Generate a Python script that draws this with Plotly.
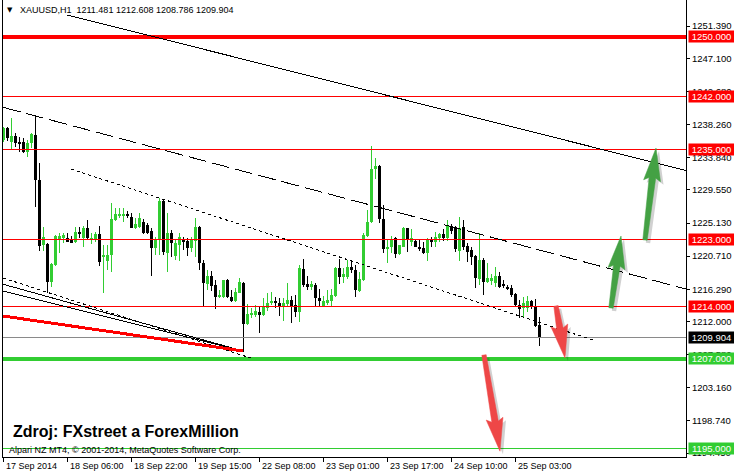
import plotly.graph_objects as go

# ---------------- data (XAUUSD H1) ----------------
time_labels = ["17 Sep 2014", "18 Sep 06:00", "18 Sep 22:00", "19 Sep 15:00",
               "22 Sep 08:00", "23 Sep 01:00", "23 Sep 17:00", "24 Sep 10:00",
               "25 Sep 03:00"]
label_bars = [0, 16, 32, 48, 64, 80, 96, 112, 128]

opens = [1236.20, 1237.80, 1235.97, 1236.73, 1235.97, 1235.89, 1234.64, 1235.76, 1236.87, 1230.87,
         1222.20, 1222.33, 1217.31, 1219.53, 1222.99, 1223.17, 1223.09, 1222.99, 1222.56, 1223.97,
         1223.09, 1224.51, 1222.96, 1222.99, 1223.67, 1220.73, 1220.07, 1220.87, 1225.53, 1226.11,
         1226.11, 1226.33, 1225.98, 1224.43, 1224.60, 1225.27, 1224.87, 1224.11, 1221.84, 1222.96,
         1228.07, 1221.17, 1223.80, 1220.73, 1222.20, 1222.96, 1222.76, 1221.84, 1222.73, 1224.64,
         1219.76, 1217.00, 1218.07, 1216.87, 1215.23, 1215.23, 1217.53, 1215.31, 1214.77, 1215.84,
         1217.09, 1211.67, 1212.87, 1212.87, 1213.23, 1212.87, 1213.76, 1214.43, 1214.73, 1214.51,
         1214.07, 1214.33, 1214.87, 1214.20, 1213.31, 1218.99, 1217.00, 1216.64, 1216.87, 1215.09,
         1214.11, 1214.43, 1214.77, 1215.44, 1219.17, 1217.97, 1217.97, 1219.31, 1218.87, 1216.11,
         1217.53, 1223.40, 1225.27, 1232.29, 1232.73, 1225.63, 1221.63, 1221.89, 1223.09, 1221.00,
         1221.97, 1224.43, 1222.64, 1222.73, 1221.97, 1221.84, 1221.17, 1222.96, 1222.64, 1223.17,
         1223.63, 1223.17, 1224.64, 1224.43, 1221.44, 1224.64, 1222.07, 1221.53, 1220.73, 1217.63,
         1220.20, 1217.31, 1217.40, 1217.09, 1218.07, 1217.00, 1216.64, 1216.51, 1215.67, 1214.20,
         1213.76, 1213.76, 1214.77, 1213.97, 1211.481]
highs = [1237.97, 1237.93, 1239.09, 1237.09, 1236.56, 1236.43, 1236.20, 1237.09, 1239.53, 1233.09,
         1224.56, 1222.47, 1219.76, 1223.53, 1223.76, 1223.84, 1223.76, 1223.40, 1224.56, 1224.64,
         1224.77, 1225.53, 1223.76, 1223.97, 1224.77, 1222.20, 1222.20, 1227.76, 1227.09, 1227.09,
         1227.09, 1226.77, 1226.43, 1225.76, 1226.51, 1225.67, 1225.13, 1224.47, 1223.31, 1228.43,
         1228.33, 1226.43, 1224.20, 1222.87, 1223.76, 1223.31, 1223.09, 1223.31, 1225.76, 1224.73,
         1220.20, 1218.87, 1218.77, 1217.53, 1216.20, 1217.53, 1217.63, 1216.20, 1216.43, 1217.84,
         1217.27, 1214.29, 1213.84, 1214.20, 1214.07, 1215.09, 1215.84, 1215.89, 1215.31, 1215.09,
         1215.09, 1217.09, 1215.44, 1215.53, 1219.53, 1220.33, 1218.11, 1217.44, 1217.09, 1216.29,
         1215.44, 1216.20, 1216.29, 1219.30, 1220.33, 1219.17, 1220.20, 1220.07, 1219.53, 1218.64,
         1223.80, 1226.87, 1235.40, 1233.76, 1232.87, 1227.53, 1222.87, 1223.40, 1223.31, 1222.20,
         1224.64, 1224.47, 1224.29, 1222.87, 1222.87, 1222.64, 1223.17, 1223.23, 1223.97, 1223.76,
         1224.29, 1225.53, 1225.00, 1224.73, 1225.89, 1225.53, 1222.43, 1221.97, 1220.87, 1223.76,
         1220.43, 1219.76, 1218.33, 1219.31, 1218.64, 1217.53, 1216.87, 1216.87, 1215.84, 1214.87,
         1215.31, 1215.40, 1214.87, 1214.96, 1212.608]
lows = [1235.97, 1236.07, 1234.87, 1235.31, 1234.64, 1234.43, 1233.97, 1235.09, 1227.31, 1221.44,
        1221.44, 1215.84, 1216.64, 1219.40, 1221.09, 1222.51, 1222.56, 1222.43, 1222.43, 1223.09,
        1221.97, 1222.87, 1222.33, 1222.64, 1219.44, 1215.76, 1218.87, 1218.64, 1225.40, 1225.76,
        1225.23, 1225.76, 1224.43, 1224.33, 1224.47, 1223.67, 1223.67, 1218.11, 1220.87, 1220.87,
        1220.87, 1218.64, 1220.64, 1220.20, 1220.07, 1221.53, 1220.73, 1221.31, 1220.64, 1218.87,
        1213.89, 1216.20, 1216.11, 1213.63, 1215.09, 1215.09, 1215.09, 1214.64, 1214.64, 1215.76,
        1207.97, 1211.53, 1212.43, 1212.64, 1210.51, 1212.77, 1213.44, 1214.20, 1213.76, 1212.73,
        1212.11, 1213.97, 1211.84, 1212.64, 1211.97, 1216.64, 1216.20, 1216.20, 1214.11, 1214.07,
        1213.97, 1214.20, 1213.97, 1215.31, 1217.00, 1217.17, 1217.63, 1218.43, 1215.31, 1215.97,
        1217.40, 1223.27, 1225.13, 1231.00, 1225.09, 1221.17, 1219.76, 1221.09, 1220.43, 1220.87,
        1221.89, 1221.31, 1222.11, 1221.89, 1221.44, 1220.96, 1220.11, 1221.97, 1221.97, 1222.64,
        1222.73, 1222.77, 1223.63, 1221.27, 1220.11, 1221.53, 1219.97, 1219.53, 1216.43, 1216.87,
        1215.53, 1217.17, 1216.87, 1216.56, 1216.47, 1216.43, 1216.20, 1215.23, 1214.07, 1212.43,
        1212.43, 1213.31, 1213.67, 1211.31, 1208.786]
closes = [1237.76, 1236.47, 1236.73, 1235.84, 1235.67, 1234.64, 1235.84, 1236.96, 1230.87, 1222.11,
          1223.31, 1217.31, 1219.63, 1223.44, 1223.44, 1223.53, 1222.64, 1222.51, 1223.97, 1223.76,
          1224.43, 1223.09, 1223.17, 1223.67, 1219.97, 1220.87, 1220.87, 1225.67, 1226.33, 1226.33,
          1226.20, 1226.07, 1224.51, 1224.99, 1225.80, 1223.84, 1223.80, 1221.84, 1222.99, 1228.11,
          1221.31, 1223.76, 1222.47, 1222.51, 1223.31, 1222.64, 1221.76, 1222.87, 1224.64, 1219.76,
          1217.09, 1218.07, 1216.73, 1215.23, 1215.53, 1217.53, 1215.31, 1214.77, 1215.97, 1217.31,
          1211.67, 1212.96, 1213.17, 1213.40, 1212.87, 1214.07, 1214.51, 1214.73, 1214.43, 1214.07,
          1214.51, 1214.87, 1214.07, 1213.31, 1219.17, 1216.87, 1216.64, 1216.96, 1215.09, 1214.73,
          1214.73, 1214.87, 1215.53, 1219.17, 1217.97, 1218.29, 1219.31, 1218.87, 1216.20, 1217.67,
          1223.53, 1225.27, 1232.33, 1232.73, 1225.63, 1221.63, 1221.97, 1222.96, 1221.00, 1222.20,
          1224.43, 1222.87, 1223.09, 1221.97, 1221.67, 1221.17, 1222.96, 1222.64, 1223.31, 1223.63,
          1223.17, 1224.87, 1224.07, 1221.63, 1224.43, 1221.97, 1221.31, 1220.64, 1217.76, 1220.20,
          1217.31, 1217.84, 1217.76, 1218.07, 1216.64, 1216.73, 1216.43, 1215.53, 1214.20, 1213.63,
          1214.51, 1214.73, 1213.89, 1211.40, 1209.904]

# price-axis ticks as MT4 shows them
y_tickvals = [1251.39, 1247.10, 1242.68, 1238.26, 1233.84, 1229.55, 1225.13, 1220.71,
              1216.29, 1212.00, 1207.58, 1203.16, 1198.74, 1194.45]
y_ticktext = ["1251.390", "1247.100", "1242.680", "1238.260", "1233.840", "1229.550",
              "1225.130", "1220.710", "1216.290", "1212.000", "1207.580", "1203.160",
              "1198.740", "1194.450"]

# horizontal levels: (price, colour, width)
level_prices = [1250.0, 1242.0, 1235.0, 1223.0, 1214.0, 1207.0, 1195.0]
level_colors = ["#FF0000", "#FF0000", "#FF0000", "#FF0000", "#FF0000", "#32CD32", "#32CD32"]
level_widths = [4, 1, 1, 1, 1, 4, 1]
bid_price = 1209.904

# trend lines: (bar0, price0, bar1, price1, colour, width, dash)
trend_lines = [
    (16.0, 1252.87, 170.67, 1232.13, "black", 1, "solid"),
    (-0.08, 1240.56, 170.67, 1216.33, "black", 1, "18px,6px"),
    (16.9, 1232.33, 147.9, 1209.44, "black", 1, "3px,3px"),
    (-0.08, 1216.97, 59.9, 1208.07, "black", 1, "solid"),
    (-0.08, 1216.07, 59.9, 1208.07, "black", 1, "solid"),
    (-0.08, 1217.80, 62.2, 1207.07, "black", 1, "3px,3px"),
    (-0.08, 1212.73, 59.9, 1208.07, "#FF0000", 3, "solid"),
]

# big arrows: (tail bar, tail price, tip bar, tip price, colour)
arrows = [
    (120.17, 1207.53, 124.17, 1194.70, "#EE4747"),
    (138.17, 1214.07, 140.42, 1207.13, "#EE4747"),
    (151.92, 1213.80, 154.42, 1223.40, "#44A144"),
    (160.42, 1222.87, 163.17, 1235.13, "#44A144"),
]

# ---------------- layout geometry ----------------
W, H = 734, 475
ML, MR, MT, MB = 3, 48, 0, 18
PW, PH = W - ML - MR, H - MT - MB
X0, X1 = -0.08, 170.67
Y0, Y1 = 1193.93, 1254.87
SX = PW / (X1 - X0)
SY = PH / (Y1 - Y0)

GREEN = "#32CD32"
n = len(opens)
bars = list(range(n))

fig = go.Figure()

# wicks
for bull in (True, False):
    xs, ys = [], []
    for i in bars:
        if (closes[i] >= opens[i]) == bull:
            xs += [i, i, None]
            ys += [lows[i], highs[i], None]
    fig.add_trace(go.Scatter(x=xs, y=ys, mode="lines",
                             line=dict(color=GREEN if bull else "black", width=1),
                             hoverinfo="skip", showlegend=False))

# bodies
base = [min(o, c) for o, c in zip(opens, closes)]
height = [max(abs(c - o), 0.13) for o, c in zip(opens, closes)]
colors = [GREEN if c >= o else "black" for o, c in zip(opens, closes)]
fig.add_trace(go.Bar(x=bars, y=height, base=base, width=0.75,
                     marker=dict(color=colors, line=dict(width=0)),
                     hoverinfo="skip", showlegend=False))

shapes = []
for p, c, w in zip(level_prices, level_colors, level_widths):
    shapes.append(dict(type="line", xref="paper", x0=0, x1=1, yref="y", y0=p, y1=p,
                       line=dict(color=c, width=w)))
shapes.append(dict(type="line", xref="paper", x0=0, x1=1, yref="y", y0=bid_price, y1=bid_price,
                   line=dict(color="#8A8A8A", width=1)))
for (a0, p0, a1, p1, c, w, d) in trend_lines:
    shapes.append(dict(type="line", xref="x", yref="y", x0=a0, y0=p0, x1=a1, y1=p1,
                       line=dict(color=c, width=w, dash=d)))


def arrow_path(xt, yt, xh, yh, dx=0.0, dy=0.0):
    ut, vt = xt * SX, yt * SY
    uh, vh = xh * SX, yh * SY
    L = ((uh - ut) ** 2 + (vh - vt) ** 2) ** 0.5
    du, dv = (uh - ut) / L, (vh - vt) / L
    nu, nv = -dv, du
    hl, hw, wn, wt = 30.0, 8.5, 3.3, 2.2
    nbu, nbv = uh - du * hl, vh - dv * hl
    bbu, bbv = uh - du * (hl + 3), vh - dv * (hl + 3)
    pts = [
        (ut + nu * wt, vt + nv * wt),
        (nbu + nu * wn, nbv + nv * wn),
        (bbu + nu * hw, bbv + nv * hw),
        (uh, vh),
        (bbu - nu * hw, bbv - nv * hw),
        (nbu - nu * wn, nbv - nv * wn),
        (ut - nu * wt, vt - nv * wt),
    ]
    s = ""
    for k, (u, v) in enumerate(pts):
        s += ("M" if k == 0 else "L") + f"{(u + dx) / SX:.4f},{(v + dy) / SY:.4f} "
    return s + "Z"


for (xt, yt, xh, yh, c) in arrows:
    shapes.append(dict(type="path", xref="x", yref="y", path=arrow_path(xt, yt, xh, yh, 3, -3),
                       fillcolor="rgba(0,0,0,0.18)", line=dict(width=0)))
    shapes.append(dict(type="path", xref="x", yref="y", path=arrow_path(xt, yt, xh, yh),
                       fillcolor=c, line=dict(color=c, width=0.5)))

FONT = "Liberation Sans, Arial, sans-serif"


def px_x(px):
    return (px - ML) / PW


def px_y(py):
    return (PH - (py - MT)) / PH


ann = []
# price label boxes
for p, c in zip(level_prices, level_colors):
    ann.append(dict(x=1, xref="paper", y=p, yref="y", xanchor="left", yanchor="middle",
                    xshift=2, text=f"{p:.3f}", showarrow=False, bgcolor=c, width=45, height=11,
                    borderpad=0, font=dict(family=FONT, size=9.5, color="white")))
ann.append(dict(x=1, xref="paper", y=bid_price, yref="y", xanchor="left", yanchor="middle",
                xshift=2, text=f"{bid_price:.3f}", showarrow=False, bgcolor="black", width=45,
                height=11, borderpad=0, font=dict(family=FONT, size=9.5, color="white")))
# time labels
for b, t in zip(label_bars, time_labels):
    ann.append(dict(x=b, xref="x", y=0, yref="paper", xanchor="left", yanchor="top",
                    xshift=1, yshift=-2, text=t, showarrow=False,
                    font=dict(family=FONT, size=9, color="black")))
# header
ann.append(dict(x=px_x(9.5), xref="paper", y=px_y(10.5), yref="paper", xanchor="center",
                yanchor="middle", text="\u25BC", showarrow=False,
                font=dict(family="DejaVu Sans", size=7, color="black")))
ann.append(dict(x=px_x(18), xref="paper", y=px_y(10), yref="paper", xanchor="left",
                yanchor="middle", showarrow=False,
                text="XAUUSD,H1\u00a0\u00a01211.481 1212.608 1208.786 1209.904",
                font=dict(family=FONT, size=9, color="black")))
ann.append(dict(x=px_x(11), xref="paper", y=px_y(431.5), yref="paper", xanchor="left",
                yanchor="middle", showarrow=False, text="<b>Zdroj: FXstreet a ForexMillion</b>",
                font=dict(family=FONT, size=16, color="black")))
ann.append(dict(x=px_x(7), xref="paper", y=px_y(450), yref="paper", xanchor="left",
                yanchor="middle", showarrow=False,
                text="Alpari NZ MT4, \u00a9 2001-2014, MetaQuotes Software Corp.",
                font=dict(family=FONT, size=9, color="black")))

fig.update_layout(
    width=W, height=H, margin=dict(l=ML, r=MR, t=MT, b=MB, pad=0),
    paper_bgcolor="white", plot_bgcolor="white", showlegend=False,
    bargap=0, shapes=shapes, annotations=ann,
    xaxis=dict(range=[X0, X1], showgrid=False, zeroline=False, showline=True,
               linecolor="black", linewidth=1, ticks="outside", ticklen=4, tickcolor="black",
               tickvals=label_bars, showticklabels=False, fixedrange=True),
    yaxis=dict(range=[Y0, Y1], side="right", showgrid=False, zeroline=False, showline=True,
               linecolor="black", linewidth=1, mirror=True, ticks="outside", ticklen=3,
               tickcolor="black", tickvals=y_tickvals, ticktext=y_ticktext,
               tickfont=dict(family=FONT, size=9.5, color="black"), fixedrange=True),
)

post = """
document.body.style.margin='0';
document.body.style.overflow='hidden';
var gd = document.querySelector('.plotly-graph-div');
function crisp(){
  gd.querySelectorAll('.shapelayer path').forEach(function(p){
    var d = p.getAttribute('d') || '';
    if (d.indexOf('Z') < 0) { p.style.shapeRendering = 'crispEdges'; }
  });
  gd.querySelectorAll('.barlayer path, .scatterlayer path').forEach(function(p){
    p.style.shapeRendering = 'crispEdges';
  });
}
crisp();
"""
fig.write_html("out.html", config={"displayModeBar": False}, post_script=post)
